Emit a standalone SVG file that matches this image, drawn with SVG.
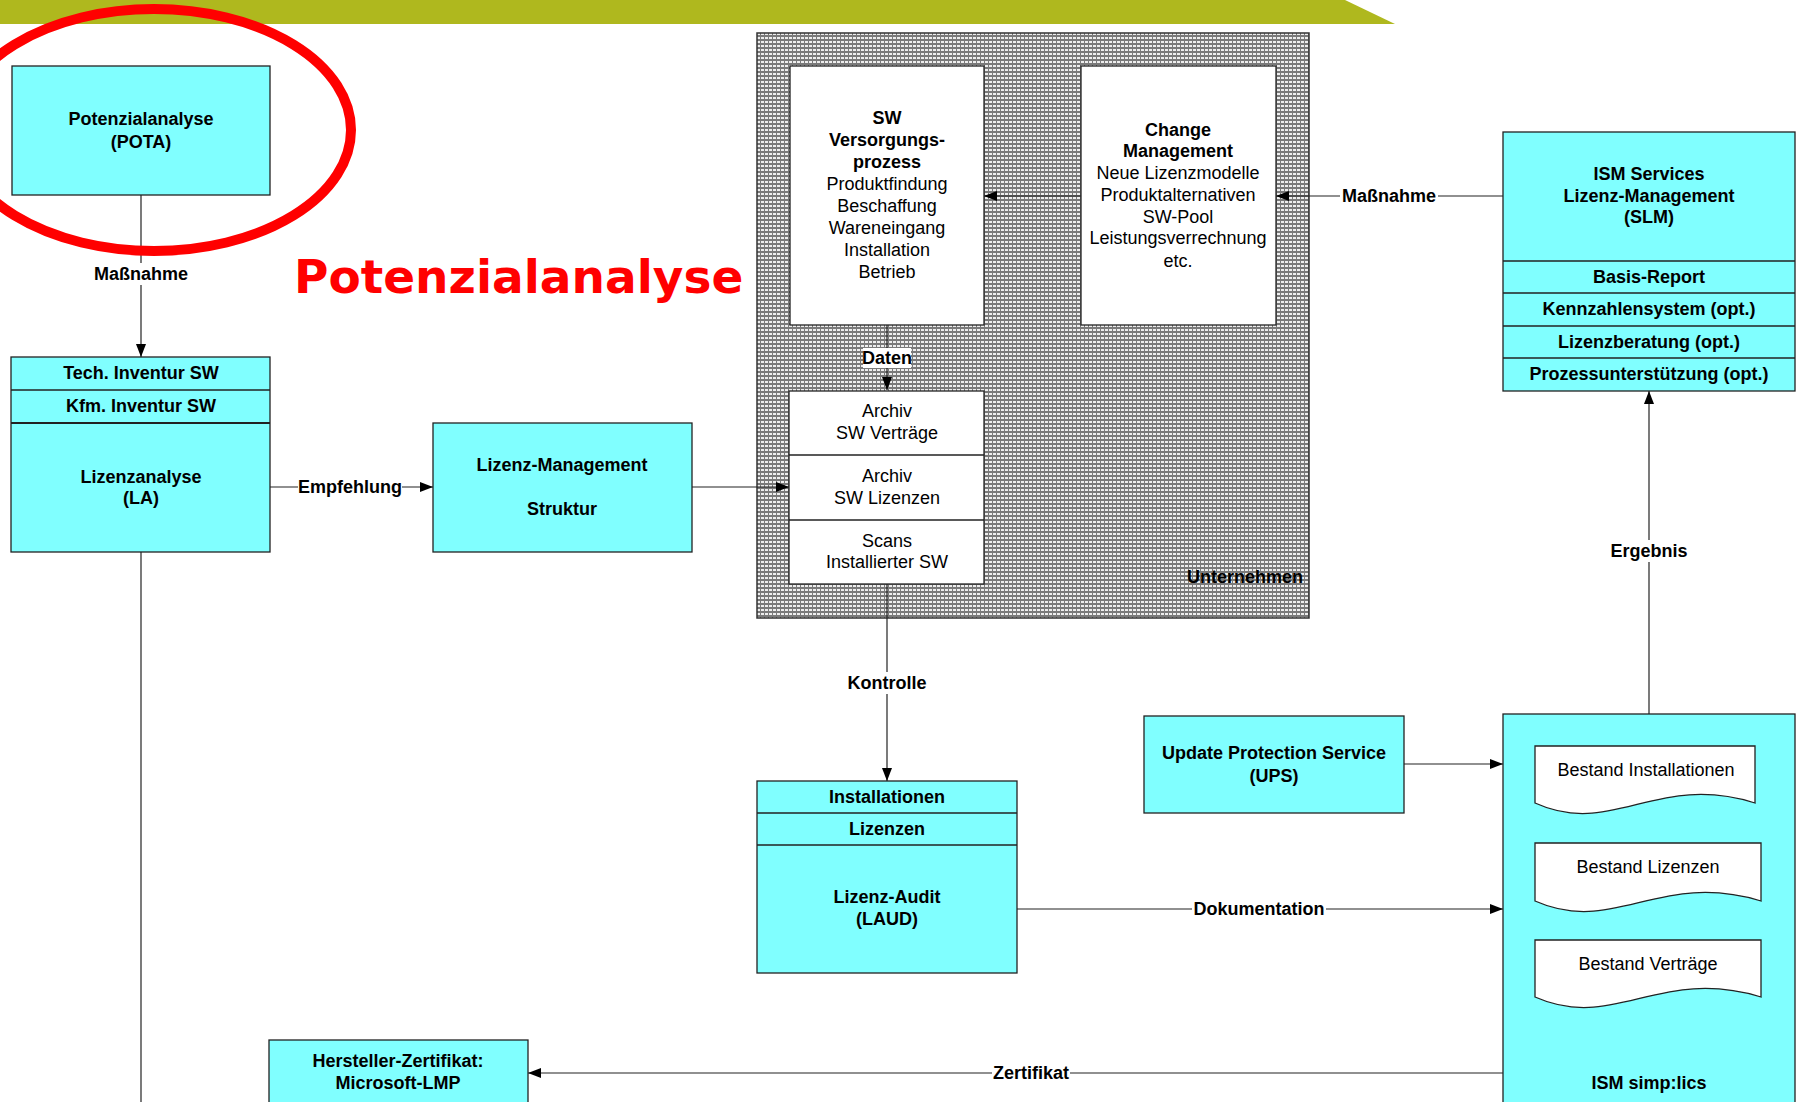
<svg xmlns="http://www.w3.org/2000/svg" width="1800" height="1102" viewBox="0 0 1800 1102">
<style>
.box{fill:#80FFFF;stroke:#222;stroke-width:1.3}
.wbox{fill:#fff;stroke:#222;stroke-width:1.3}
.b{font-family:"Liberation Sans",Arial,sans-serif;font-weight:bold;font-size:18px;text-anchor:middle;fill:#000}
.r{font-family:"Liberation Sans",Arial,sans-serif;font-size:18px;text-anchor:middle;fill:#000}
.conn{stroke:#222;stroke-width:1.2;fill:none}
.lbg{fill:#fff}
</style>
<defs>
<pattern id="dots" width="4" height="4" patternUnits="userSpaceOnUse">
<rect width="4" height="4" fill="#7a7a7a"/>
<rect x="1" y="1" width="3" height="2" fill="#eeeeee"/>
</pattern>
<marker id="arr" markerUnits="userSpaceOnUse" markerWidth="13" markerHeight="10" refX="13" refY="5" orient="auto">
<path d="M0,0 L13,5 L0,10 z" fill="#000"/>
</marker>
</defs>
<rect width="1800" height="1102" fill="#fff"/>
<polygon points="0,0 1345,0 1395,24 0,24" fill="#AFB81E"/>

<g id="unternehmen">
<rect x="757" y="33" width="552" height="585" fill="url(#dots)" stroke="#333" stroke-width="1.5"/>
<text class="b" x="1303" y="583" style="text-anchor:end">Unternehmen</text>
</g>

<g id="connectors">
<path class="conn" d="M141,195 V357" marker-end="url(#arr)"/>
<path class="conn" d="M270,487 H433" marker-end="url(#arr)"/>
<path class="conn" d="M692,487 H789" marker-end="url(#arr)"/>
<path class="conn" d="M887,325 V390" marker-end="url(#arr)"/>
<path class="conn" d="M1081,196 H984" marker-end="url(#arr)"/>
<path class="conn" d="M1503,196 H1276" marker-end="url(#arr)"/>
<path class="conn" d="M887,584 V781" marker-end="url(#arr)"/>
<path class="conn" d="M1649,714 V391" marker-end="url(#arr)"/>
<path class="conn" d="M1404,764 H1503" marker-end="url(#arr)"/>
<path class="conn" d="M1017,909 H1503" marker-end="url(#arr)"/>
<path class="conn" d="M1503,1073 H528" marker-end="url(#arr)"/>
<path class="conn" d="M141,552 V1102"/>
<rect class="lbg" x="92" y="263" width="98" height="22"/>
<text class="b" x="141" y="280">Maßnahme</text>
<rect class="lbg" x="298" y="476" width="104" height="22"/>
<text class="b" x="350" y="493">Empfehlung</text>
<rect class="lbg" x="863" y="348" width="48" height="20"/>
<text class="b" x="887" y="364">Daten</text>
<rect class="lbg" x="1340" y="185" width="98" height="22"/>
<text class="b" x="1389" y="202">Maßnahme</text>
<rect class="lbg" x="846" y="672" width="82" height="22"/>
<text class="b" x="887" y="689">Kontrolle</text>
<rect class="lbg" x="1609" y="540" width="80" height="22"/>
<text class="b" x="1649" y="557">Ergebnis</text>
<rect class="lbg" x="1192" y="898" width="134" height="22"/>
<text class="b" x="1259" y="915">Dokumentation</text>
<rect class="lbg" x="992" y="1062" width="78" height="22"/>
<text class="b" x="1031" y="1079">Zertifikat</text>
</g>

<g id="pota">
<rect class="box" x="12" y="66" width="258" height="129"/>
<text class="b" x="141" y="125">Potenzialanalyse</text>
<text class="b" x="141" y="148">(POTA)</text>
</g>

<g id="la">
<rect class="box" x="11" y="357" width="259" height="195"/>
<line x1="11" y1="390" x2="270" y2="390" stroke="#222" stroke-width="1.3"/>
<line x1="11" y1="423" x2="270" y2="423" stroke="#222" stroke-width="2"/>
<text class="b" x="141" y="379">Tech. Inventur SW</text>
<text class="b" x="141" y="412">Kfm. Inventur SW</text>
<text class="b" x="141" y="483">Lizenzanalyse</text>
<text class="b" x="141" y="504">(LA)</text>
</g>

<g id="lm">
<rect class="box" x="433" y="423" width="259" height="129"/>
<text class="b" x="562" y="471">Lizenz-Management</text>
<text class="b" x="562" y="515">Struktur</text>
</g>

<g id="sw">
<rect class="wbox" x="790" y="66" width="194" height="259"/>
<text class="b" x="887" y="124">SW</text>
<text class="b" x="887" y="146">Versorgungs-</text>
<text class="b" x="887" y="168">prozess</text>
<text class="r" x="887" y="190">Produktfindung</text>
<text class="r" x="887" y="212">Beschaffung</text>
<text class="r" x="887" y="234">Wareneingang</text>
<text class="r" x="887" y="256">Installation</text>
<text class="r" x="887" y="278">Betrieb</text>
</g>

<g id="change">
<rect class="wbox" x="1081" y="66" width="195" height="259"/>
<text class="b" x="1178" y="136">Change</text>
<text class="b" x="1178" y="157">Management</text>
<text class="r" x="1178" y="179">Neue Lizenzmodelle</text>
<text class="r" x="1178" y="201">Produktalternativen</text>
<text class="r" x="1178" y="223">SW-Pool</text>
<text class="r" x="1178" y="244">Leistungsverrechnung</text>
<text class="r" x="1178" y="267">etc.</text>
</g>

<g id="archiv">
<rect class="wbox" x="789" y="391" width="195" height="193"/>
<line x1="789" y1="455" x2="984" y2="455" stroke="#222" stroke-width="1.3"/>
<line x1="789" y1="520" x2="984" y2="520" stroke="#222" stroke-width="1.3"/>
<text class="r" x="887" y="417">Archiv</text>
<text class="r" x="887" y="439">SW Verträge</text>
<text class="r" x="887" y="482">Archiv</text>
<text class="r" x="887" y="504">SW Lizenzen</text>
<text class="r" x="887" y="547">Scans</text>
<text class="r" x="887" y="568">Installierter SW</text>
</g>

<g id="slm">
<rect class="box" x="1503" y="132" width="292" height="259"/>
<line x1="1503" y1="261" x2="1795" y2="261" stroke="#222" stroke-width="1.3"/>
<line x1="1503" y1="293" x2="1795" y2="293" stroke="#222" stroke-width="1.3"/>
<line x1="1503" y1="326" x2="1795" y2="326" stroke="#222" stroke-width="1.3"/>
<line x1="1503" y1="358" x2="1795" y2="358" stroke="#222" stroke-width="1.3"/>
<text class="b" x="1649" y="180">ISM Services</text>
<text class="b" x="1649" y="202">Lizenz-Management</text>
<text class="b" x="1649" y="223">(SLM)</text>
<text class="b" x="1649" y="283">Basis-Report</text>
<text class="b" x="1649" y="315">Kennzahlensystem (opt.)</text>
<text class="b" x="1649" y="348">Lizenzberatung (opt.)</text>
<text class="b" x="1649" y="380">Prozessunterstützung (opt.)</text>
</g>

<g id="laud">
<rect class="box" x="757" y="781" width="260" height="192"/>
<line x1="757" y1="813" x2="1017" y2="813" stroke="#222" stroke-width="1.3"/>
<line x1="757" y1="845" x2="1017" y2="845" stroke="#222" stroke-width="1.3"/>
<text class="b" x="887" y="803">Installationen</text>
<text class="b" x="887" y="835">Lizenzen</text>
<text class="b" x="887" y="903">Lizenz-Audit</text>
<text class="b" x="887" y="925">(LAUD)</text>
</g>

<g id="ups">
<rect class="box" x="1144" y="716" width="260" height="97"/>
<text class="b" x="1274" y="759">Update Protection Service</text>
<text class="b" x="1274" y="782">(UPS)</text>
</g>

<g id="ism">
<rect class="box" x="1503" y="714" width="292" height="400"/>
<path class="wbox" d="M1535,746 H1755 V803 C1656,772 1612,838 1535,803 Z"/>
<text class="r" x="1646" y="776">Bestand Installationen</text>
<path class="wbox" d="M1535,843 H1761 V901 C1659,870 1614,936 1535,901 Z"/>
<text class="r" x="1648" y="873">Bestand Lizenzen</text>
<path class="wbox" d="M1535,940 H1761 V997 C1659,966 1614,1032 1535,997 Z"/>
<text class="r" x="1648" y="970">Bestand Verträge</text>
<text class="b" x="1649" y="1089">ISM simp:lics</text>
</g>

<g id="hersteller">
<rect class="box" x="269" y="1040" width="259" height="80"/>
<text class="b" x="398" y="1067">Hersteller-Zertifikat:</text>
<text class="b" x="398" y="1089">Microsoft-LMP</text>
</g>

<g id="highlight">
<ellipse cx="154" cy="130" rx="197" ry="121" fill="none" stroke="#FF0000" stroke-width="10"/>
<text x="294" y="293" font-family="'DejaVu Sans',Verdana,sans-serif" font-weight="bold" font-size="47" fill="#FF0000">Potenzialanalyse</text>
</g>
</svg>
